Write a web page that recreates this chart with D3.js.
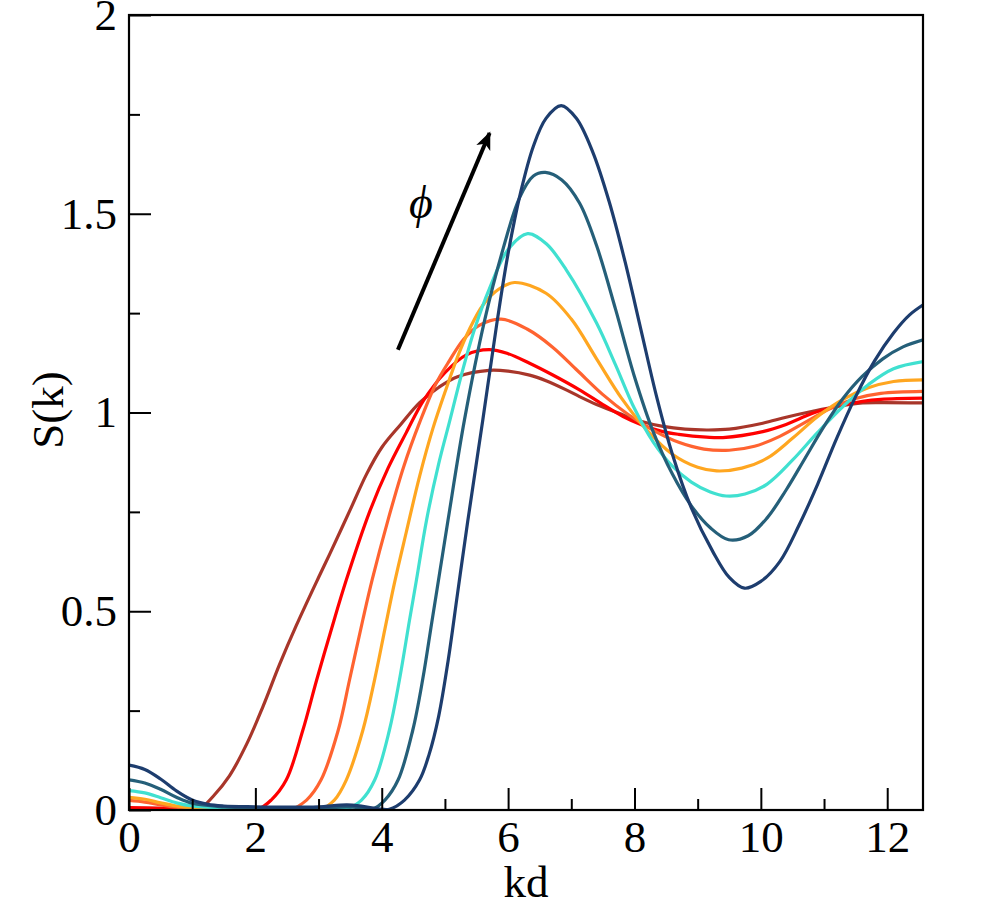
<!DOCTYPE html>
<html>
<head>
<meta charset="utf-8">
<script src="https://cdn.jsdelivr.net/npm/d3@7"></script>
<style>
  body { margin: 0; background: #fff; }
  svg { font-family: "Liberation Serif", "Times New Roman", serif; }
</style>
</head>
<body>
<svg id="chart" width="990" height="911"></svg>
<script>
// S(k) curves, one per packing fraction
const sNavy = [[0,0.113],[0.25,0.102],[0.5,0.078],[0.75,0.048],[1.0,0.025],[1.25,0.014],[1.5,0.010],[2.0,0.008],[2.5,0.007],[3.0,0.008],[3.45,0.013],[3.7,0.009],[3.95,0.003],[4.12,0.002],[4.36,0.025],[4.6,0.076],[4.75,0.14],[4.9,0.235],[5.05,0.375],[5.2,0.545],[5.36,0.725],[5.6,0.982],[5.83,1.233],[6.0,1.40],[6.2,1.555],[6.4,1.67],[6.6,1.74],[6.84,1.772],[7.08,1.74],[7.34,1.655],[7.6,1.53],[7.85,1.38],[8.1,1.21],[8.35,1.04],[8.6,0.895],[8.9,0.76],[9.24,0.65],[9.5,0.585],[9.74,0.558],[10.0,0.575],[10.3,0.625],[10.6,0.715],[10.9,0.82],[11.2,0.935],[11.5,1.04],[11.8,1.13],[12.1,1.2],[12.35,1.245],[12.57,1.271]]
const sTeal = [[0,0.076],[0.25,0.068],[0.5,0.052],[0.75,0.032],[1.0,0.017],[1.5,0.008],[2.0,0.005],[2.5,0.004],[3.0,0.004],[3.45,0.008],[3.75,0.004],[3.86,0.003],[4.05,0.025],[4.26,0.076],[4.49,0.20],[4.65,0.33],[4.79,0.47],[4.92,0.60],[5.05,0.730],[5.31,0.982],[5.63,1.233],[5.90,1.40],[6.18,1.54],[6.4,1.595],[6.59,1.604],[6.85,1.585],[7.13,1.527],[7.4,1.42],[7.7,1.26],[8.0,1.09],[8.3,0.95],[8.6,0.845],[8.9,0.765],[9.2,0.71],[9.49,0.68],[9.8,0.69],[10.1,0.735],[10.4,0.805],[10.7,0.885],[11.0,0.965],[11.3,1.035],[11.6,1.09],[11.93,1.135],[12.25,1.165],[12.57,1.183]]
const sTurq = [[0,0.049],[0.25,0.043],[0.5,0.031],[0.75,0.018],[1.0,0.010],[1.5,0.005],[2.0,0.003],[2.5,0.002],[3.0,0.002],[3.3,0.002],[3.44,0.003],[3.68,0.025],[3.89,0.076],[4.12,0.20],[4.28,0.327],[4.44,0.478],[4.55,0.579],[4.71,0.73],[4.9,0.87],[5.07,0.975],[5.27,1.10],[5.47,1.21],[5.7,1.31],[6.0,1.41],[6.31,1.450],[6.6,1.425],[6.92,1.359],[7.40,1.225],[7.7,1.12],[8.0,1.01],[8.3,0.925],[8.6,0.865],[8.9,0.825],[9.2,0.80],[9.45,0.79],[9.75,0.795],[10.1,0.82],[10.5,0.88],[10.9,0.95],[11.3,1.015],[11.7,1.07],[12.1,1.11],[12.57,1.128]]
const sOrange = [[0,0.032],[0.25,0.027],[0.5,0.018],[0.75,0.010],[1.0,0.005],[1.5,0.002],[2.0,0.001],[2.5,0.0],[3.02,0.0],[3.25,0.025],[3.44,0.076],[3.70,0.20],[3.89,0.33],[4.05,0.455],[4.2,0.57],[4.39,0.70],[4.6,0.84],[4.81,0.96],[5.02,1.06],[5.2,1.14],[5.39,1.21],[5.6,1.27],[5.85,1.31],[6.10,1.327],[6.6,1.30],[7.0,1.235],[7.4,1.135],[7.8,1.035],[8.2,0.955],[8.6,0.895],[9.0,0.862],[9.3,0.853],[9.7,0.86],[10.1,0.885],[10.5,0.935],[10.9,0.99],[11.3,1.033],[11.7,1.062],[12.1,1.078],[12.57,1.082]]
const sOrangeRed = [[0,0.024],[0.25,0.020],[0.5,0.013],[0.75,0.007],[1.0,0.003],[1.5,0.001],[2.0,0.0],[2.54,0.0],[2.81,0.025],[3.04,0.076],[3.31,0.20],[3.49,0.327],[3.70,0.478],[3.85,0.58],[4.10,0.73],[4.35,0.865],[4.60,0.975],[4.85,1.07],[5.07,1.13],[5.3,1.185],[5.55,1.22],[5.89,1.235],[6.3,1.21],[6.7,1.165],[7.1,1.105],[7.5,1.045],[7.9,0.995],[8.3,0.955],[8.7,0.925],[9.1,0.908],[9.5,0.905],[9.9,0.915],[10.3,0.94],[10.7,0.975],[11.1,1.01],[11.5,1.035],[11.9,1.048],[12.57,1.053]]
const sRed = [[0,0.006],[0.5,0.004],[1.0,0.002],[1.5,0.001],[2.02,0.0],[2.25,0.025],[2.49,0.076],[2.75,0.20],[2.97,0.327],[3.20,0.453],[3.44,0.579],[3.80,0.747],[4.1,0.86],[4.39,0.95],[4.66,1.03],[5.0,1.10],[5.34,1.145],[5.70,1.158],[6.0,1.148],[6.34,1.124],[6.7,1.095],[7.13,1.057],[7.5,1.02],[7.82,0.99],[8.1,0.97],[8.45,0.952],[8.7,0.945],[9.14,0.938],[9.4,0.937],[10.03,0.952],[10.4,0.97],[10.82,0.998],[11.2,1.015],[11.61,1.028],[11.9,1.033],[12.57,1.036]]
const sBrown = [[0,0.005],[0.5,0.004],[1.0,0.002],[1.12,0.003],[1.33,0.034],[1.59,0.086],[1.86,0.165],[2.12,0.26],[2.38,0.365],[2.65,0.465],[3.0,0.585],[3.18,0.645],[3.5,0.755],[3.76,0.845],[4.0,0.912],[4.3,0.97],[4.6,1.025],[4.9,1.063],[5.2,1.09],[5.70,1.106],[6.0,1.104],[6.34,1.094],[6.6,1.08],[6.92,1.057],[7.13,1.040],[7.4,1.02],[7.82,0.994],[8.1,0.978],[8.45,0.965],[8.8,0.958],[9.14,0.956],[9.5,0.958],[10.03,0.973],[10.4,0.988],[10.82,1.003],[11.2,1.015],[11.61,1.024],[11.9,1.025],[12.57,1.024]]

const seriesList = [sBrown, sRed, sOrangeRed, sOrange, sTurq, sTeal, sNavy]
const seriesColours = ["#a8362a", "#ff0000", "#ff6330", "#ffa620", "#40e0d0", "#255f79", "#1d3d6e"]

const xMajor = [0, 2, 4, 6, 8, 10, 12]
const xMinor = [1, 3, 5, 7, 9, 11]
const yMajor = [0, 0.5, 1, 1.5, 2]
const yMinor = [0.25, 0.75, 1.25, 1.75]

// arrow annotation (data coords) and its label
const arrowFrom = [4.256, 1.158]
const arrowTo = [5.707, 1.703]
const phiAt = [4.62, 1.49]

const margin = {left: 129, top: 15, right: 67, bottom: 101}
const width = 990 - margin.left - margin.right
const height = 911 - margin.top - margin.bottom

const svg = d3.select("#chart")
const g = svg.append("g").attr("transform", `translate(${margin.left},${margin.top})`)

const x = d3.scaleLinear().domain([0, 4 * Math.PI]).range([0, width])
const y = d3.scaleLinear().domain([0, 2]).range([height, 0])

g.append("clipPath").attr("id", "clip")
    .append("rect").attr("width", width).attr("height", height)

const line = d3.line()
    .x(d => x(d[0]))
    .y(d => y(d[1]))
    .curve(d3.curveCatmullRom.alpha(0.5))

g.append("g").attr("clip-path", "url(#clip)")
    .selectAll("path")
    .data(seriesList)
    .enter()
    .append("path")
    .attr("d", line)
    .style("fill", "none")
    .style("stroke", (d, i) => seriesColours[i])
    .style("stroke-width", 3.2)
    .style("stroke-linejoin", "round")

// axes, ticks pointing inward
g.append("g").attr("transform", `translate(0,${height})`)
    .call(d3.axisBottom(x).tickValues(xMajor).tickSize(-22).tickSizeOuter(0).tickPadding(10).tickFormat(d => String(d)))
g.append("g").attr("transform", `translate(0,${height})`)
    .call(d3.axisBottom(x).tickValues(xMinor).tickSize(-11).tickSizeOuter(0).tickFormat(""))

const yAxis = g.append("g")
    .call(d3.axisLeft(y).tickValues(yMajor).tickSize(-22).tickSizeOuter(0).tickPadding(12).tickFormat(d => String(d)))
g.append("g")
    .call(d3.axisLeft(y).tickValues(yMinor).tickSize(-11).tickSizeOuter(0).tickFormat(""))

g.selectAll(".domain").remove()
g.selectAll(".tick line").style("stroke", "#000").style("stroke-width", 2)
g.selectAll(".tick text").style("font-size", "45px").style("fill", "#000")
    .style("font-family", '"Liberation Serif", "Times New Roman", serif')
yAxis.selectAll(".tick text").attr("dy", "0.32em")

g.append("rect")
    .attr("width", width).attr("height", height)
    .style("fill", "none").style("stroke", "#000").style("stroke-width", 2.2)

// axis titles
g.append("text")
    .attr("x", width / 2).attr("y", height + 87)
    .attr("text-anchor", "middle")
    .style("font-size", "45px")
    .text("kd")

g.append("text")
    .attr("transform", `translate(${63 - margin.left},${410 - margin.top}) rotate(-90)`)
    .attr("text-anchor", "middle")
    .style("font-size", "45px")
    .text("S(k)")

// phi arrow
svg.append("defs").append("marker")
    .attr("id", "head")
    .attr("viewBox", "0 0 10 10")
    .attr("refX", 9).attr("refY", 5)
    .attr("markerWidth", 4.5).attr("markerHeight", 4.5)
    .attr("orient", "auto")
    .append("path").attr("d", "M0,0.8 L10,5 L0,9.2 L2.5,5 Z").style("fill", "#000")

g.append("line")
    .attr("x1", x(arrowFrom[0])).attr("y1", y(arrowFrom[1]))
    .attr("x2", x(arrowTo[0])).attr("y2", y(arrowTo[1]))
    .style("stroke", "#000").style("stroke-width", 4)
    .attr("marker-end", "url(#head)")

g.append("text")
    .attr("x", x(phiAt[0])).attr("y", y(phiAt[1]))
    .attr("text-anchor", "middle")
    .style("font-size", "46px")
    .style("font-style", "italic")
    .text("ϕ")
</script>
</body>
</html>
